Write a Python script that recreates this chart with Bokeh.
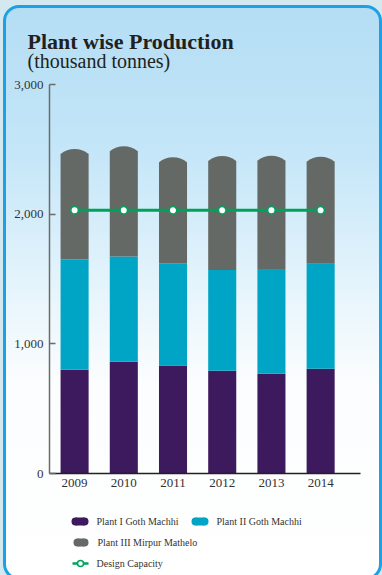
import numpy as np
from bokeh.plotting import figure
from bokeh.models import Range1d, FixedTicker, NumeralTickFormatter
from bokeh.layouts import column
from bokeh.embed import file_html
from bokeh.resources import INLINE
from bokeh.core.properties import value

# ---------------- data ----------------
title_text = "Plant wise Production"
subtitle_text = "(thousand tonnes)"
years = [2009, 2010, 2011, 2012, 2013, 2014]
year_labels = ["2009", "2010", "2011", "2012", "2013", "2014"]
plant_1 = [800, 862, 833, 792, 769, 808]
plant_2 = [850, 811, 788, 778, 809, 809]
plant_3 = [815, 812, 779, 841, 835, 788]
design_capacity = [2030, 2030, 2030, 2030, 2030, 2030]
y_ticks = [0, 1000, 2000, 3000]
series_names = ["Plant I Goth Machhi", "Plant II Goth Machhi",
                "Plant III Mirpur Mathelo", "Design Capacity"]
series_colors = ["#3d1a5d", "#00a5c6", "#656966", "#00a25a"]

FONT = "Liberation Serif"
W = 373            # canvas width inside the card
H = 495            # chart canvas height
BOTTOM = 30        # room for the year labels (inside the frame)
AX_L, AX_R = 43, 354   # pixel extent of the axes inside the canvas
X0, X1 = 2008.49, 2014.81
PX_PER_X = (AX_R - AX_L) / (X1 - X0)
ZERO_PX = H - BOTTOM    # pixel row of y = 0, from the top
PX_PER_Y = 0.12966      # pixels per thousand-tonne unit
Y_TOP = ZERO_PX / PX_PER_Y
Y_BOT = -BOTTOM / PX_PER_Y

# ---------------- main chart ----------------
p = figure(width=W, height=H,
           x_range=Range1d(X0 - AX_L / PX_PER_X, X1 + (W - AX_R) / PX_PER_X),
           y_range=Range1d(Y_BOT, Y_TOP), output_backend="svg", toolbar_location=None,
           min_border=0, min_border_left=0, min_border_right=0, min_border_top=0,
           min_border_bottom=0)
p.grid.visible = False
p.outline_line_color = None
p.background_fill_color = None
p.border_fill_color = None

def px_x(px):
    return X0 + (px - AX_L) / PX_PER_X

def px_y(px_from_top):
    return Y_TOP - px_from_top / PX_PER_Y

# titles
p.text(x=[px_x(21)], y=[px_y(32.7)], text=[title_text], text_font=value(FONT),
       text_font_style="bold", text_font_size="22px", text_color="#231f20",
       text_baseline="alphabetic", text_align="left")
p.text(x=[px_x(21)], y=[px_y(52)], text=[subtitle_text], text_font=value(FONT),
       text_font_size="20px", text_color="#231f20",
       text_baseline="alphabetic", text_align="left")

t1 = np.array(plant_1, dtype=float)
t2 = t1 + np.array(plant_2, dtype=float)
t3 = t2 + np.array(plant_3, dtype=float)
bw = 0.57
p.vbar(x=years, bottom=0, top=t1, width=bw, fill_color=series_colors[0], line_color=None)
p.vbar(x=years, bottom=t1, top=t2, width=bw, fill_color=series_colors[1], line_color=None)
p.vbar(x=years, bottom=t2, top=t3, width=bw, fill_color=series_colors[2], line_color=None)
# rounded cap on top of each stack
p.wedge(x=years, y=t3 - 17.1 / PX_PER_Y, radius=22.1, radius_units="screen",
        start_angle=np.deg2rad(50.7), end_angle=np.deg2rad(129.3),
        fill_color=series_colors[2], line_color=None)

p.line(x=years, y=design_capacity, line_color=series_colors[3], line_width=3)
p.scatter(x=years, y=design_capacity, marker="circle", size=7.5,
          fill_color="white", line_color=series_colors[3], line_width=1.5)

# axes (side-panel axes drawn at fixed data locations)
ya = p.yaxis[0]
ya.fixed_location = X0
ya.bounds = (0, 3000)
ya.ticker = FixedTicker(ticks=y_ticks, minor_ticks=[])
ya.formatter = NumeralTickFormatter(format="0,0")
ya.major_tick_in = 6
ya.major_tick_out = 0
ya.minor_tick_in = 0
ya.minor_tick_out = 0
ya.axis_line_color = "#6b6b6b"
ya.axis_line_width = 1.5
ya.major_tick_line_color = "#6b6b6b"
ya.major_tick_line_width = 1.5
ya.major_label_text_font = FONT
ya.major_label_text_font_size = "13px"
ya.major_label_text_color = "#333333"
ya.major_label_standoff = 6

xa = p.xaxis[0]
xa.fixed_location = 0
xa.bounds = (X0, X1)
xa.ticker = FixedTicker(ticks=years, minor_ticks=[])
xa.major_label_overrides = {y: lab for y, lab in zip(years, year_labels)}
xa.major_tick_in = 0
xa.major_tick_out = 0
xa.minor_tick_in = 0
xa.minor_tick_out = 0
xa.axis_line_color = "#222222"
xa.axis_line_width = 1.5
xa.major_label_text_font = FONT
xa.major_label_text_font_size = "13px"
xa.major_label_text_color = "#333333"
xa.major_label_standoff = 5

# ---------------- legend ----------------
lg = figure(width=W, height=78, x_range=Range1d(0, W), y_range=Range1d(78, 0),
            x_axis_type=None, y_axis_type=None, min_border=0,
            output_backend="svg", toolbar_location=None)
lg.grid.visible = False
lg.outline_line_color = None
lg.background_fill_color = None
lg.border_fill_color = None

pill_cx = [73.5, 193.5, 74.5]
pill_cy = [18, 18, 39]
pill_w = [17, 17, 15]
ph = 8
for cx, cy, w, c in zip(pill_cx, pill_cy, pill_w, series_colors[:3]):
    inner_w = w - ph
    lg.rect(x=[cx], y=[cy], width=[inner_w], height=[ph], fill_color=c, line_color=None)
    lg.circle(x=[cx - inner_w / 2, cx + inner_w / 2], y=[cy, cy], radius=ph / 2,
              fill_color=c, line_color=None)
lg.line(x=[66, 82], y=[60, 60], line_color=series_colors[3], line_width=2.5)
lg.circle(x=[74], y=[60], radius=3, fill_color="white",
          line_color=series_colors[3], line_width=1.5)

lg.text(x=[90, 210, 91, 90], y=[18, 18, 39, 60], text=series_names,
        text_font=value(FONT), text_font_size="10px", text_color="#333333",
        text_baseline="middle", text_align="left")

# ---------------- layout ----------------
card = column(p, lg, margin=(5, 0, 0, 3),
              styles={"border": "3px solid #1ba1e6",
                      "border-radius": "16px",
                      "background": "linear-gradient(to bottom, #b4ddf4 0%, #c4e6f8 25%, #e9f6fc 52%, #fbfdfe 66%, #ffffff 100%)"})
outer = column(card, width=382, height=575,
               styles={"background-color": "#d4e8f0", "overflow": "hidden"})

open("out.html", "w").write(file_html(outer, INLINE))
